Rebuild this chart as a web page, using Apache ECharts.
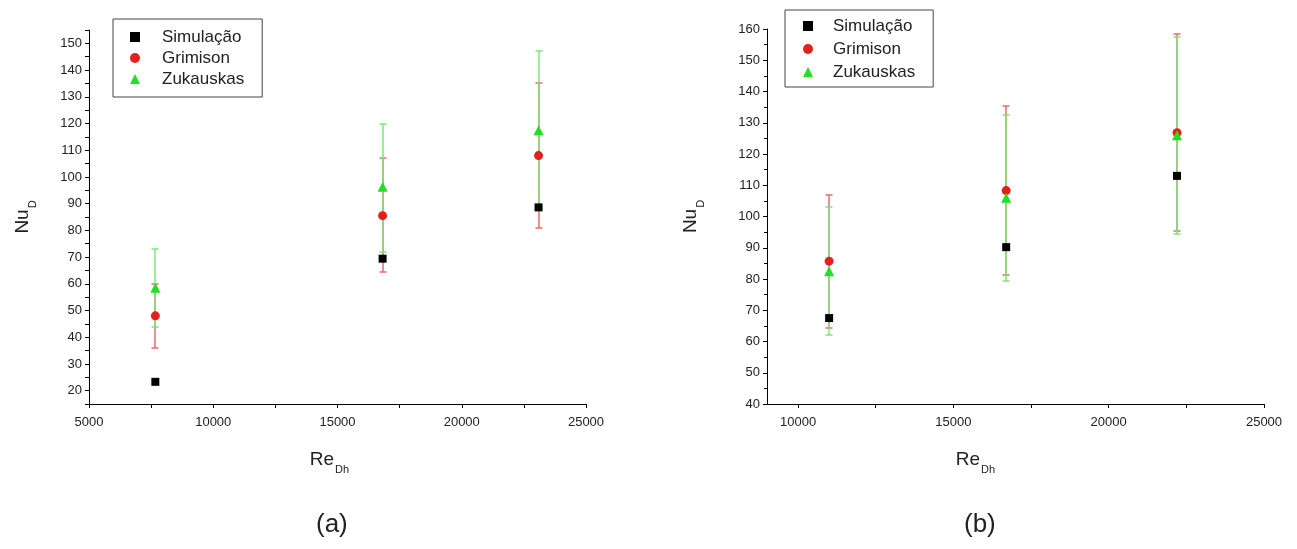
<!DOCTYPE html>
<html><head><meta charset="utf-8">
<script src="https://cdn.jsdelivr.net/npm/echarts@6/dist/echarts.min.js"></script>
<style>html,body{margin:0;padding:0;background:#fff}#c{width:1297px;height:549px}</style>
</head><body><div id="c"></div>
<script>
// ---- Data: panel (a) ----
const reA = [7670, 16815, 23090];
const simA = [23.3, 69.4, 88.6];
const grimA = [48.0, 85.5, 108.0];
const grimLoA = [36.0, 64.3, 81.0];
const grimHiA = [60.0, 107.0, 135.3];
const zukA = [58.5, 96.3, 117.5];
const zukLoA = [44.0, 72.0, 88.0];
const zukHiA = [73.0, 120.0, 147.0];

// ---- Data: panel (b) ----
const reB = [11000, 16700, 22200];
const simB = [67.5, 90.2, 113.0];
const grimB = [85.7, 108.3, 126.8];
const grimLoB = [64.2, 81.3, 95.3];
const grimHiB = [107.0, 135.3, 158.5];
const zukB = [82.5, 106.0, 126.0];
const zukLoB = [62.0, 79.5, 94.5];
const zukHiB = [103.2, 132.6, 157.5];

// ---- Tick labels ----
const xLabelsA = [5000, 10000, 15000, 20000, 25000];
const yLabelsA = [20, 30, 40, 50, 60, 70, 80, 90, 100, 110, 120, 130, 140, 150];
const xLabelsB = [10000, 15000, 20000, 25000];
const xTicksB = [10000, 12500, 15000, 17500, 20000, 22500, 25000];
const yLabelsB = [40, 50, 60, 70, 80, 90, 100, 110, 120, 130, 140, 150, 160];

const seriesNames = ['Simulação', 'Grimison', 'Zukauskas'];
const captions = ['(a)', '(b)'];
const xName = '{a|Re}{s|Dh}';
const yName = '{a|Nu}{s|D}';

const FONT = '"Liberation Sans", Arial, sans-serif';
const C_SIM = '#000000', C_GRIM = '#e3201b', C_ZUK = '#22e022';
const C_GRIM_BAR = '#e46a6a', C_ZUK_BAR = '#7ee47e';

const pts = (xs, ys) => xs.map((x, i) => [x, ys[i]]);
const bars = (xs, lo, hi) => xs.map((x, i) => [x, lo[i], hi[i]]);

function errRender(color) {
  return function (params, api) {
    const x = api.value(0);
    const p1 = api.coord([x, api.value(1)]);
    const p2 = api.coord([x, api.value(2)]);
    const cx = Math.round(p1[0]);
    const y1 = Math.round(p1[1]), y2 = Math.round(p2[1]);
    const w = 3.5;
    const st = { stroke: color, lineWidth: 1.5 };
    return { type: 'group', children: [
      { type: 'line', shape: { x1: cx, y1: y1, x2: cx, y2: y2 }, style: st },
      { type: 'line', shape: { x1: cx - w, y1: y1, x2: cx + w, y2: y1 }, style: st },
      { type: 'line', shape: { x1: cx - w, y1: y2, x2: cx + w, y2: y2 }, style: st }
    ]};
  };
}

const nameRich = {
  a: { fontSize: 19, fontFamily: FONT, color: '#222', verticalAlign: 'top', lineHeight: 20 },
  s: { fontSize: 11, fontFamily: FONT, color: '#222', verticalAlign: 'top', padding: [14, 0, 0, 1], lineHeight: 12 }
};
const labelStyle = { fontSize: 13, fontFamily: FONT, color: '#222' };
const axisLine = { show: true, onZero: false, lineStyle: { color: '#000', width: 1 } };

function legendCfg(left, top, pad, gap, textPad) {
  return {
    orient: 'vertical', left: left, top: top,
    data: seriesNames,
    itemWidth: 10, itemHeight: 10, itemGap: gap,
    padding: pad,
    borderColor: '#444', borderWidth: 1,
    textStyle: { fontSize: 17, fontFamily: FONT, color: '#222', lineHeight: 18, padding: [0, 0, 0, textPad] },
    selectedMode: false
  };
}

function scatterSeries(name, data, symbol, size, color, xi) {
  return { name: name, type: 'scatter', xAxisIndex: xi, yAxisIndex: xi, data: data,
    symbol: symbol, symbolSize: size, itemStyle: { color: color, opacity: 1 }, z: 5 };
}
function errSeries(name, data, color, xi) {
  return { name: name, type: 'custom', xAxisIndex: xi, yAxisIndex: xi, data: data,
    encode: { x: 0, y: [1, 2] }, renderItem: errRender(color), silent: true, z: 3 };
}

const option = {
  animation: false,
  backgroundColor: '#fff',
  legend: [legendCfg(113, 19, [9, 18, 9, 17], 3, 17), legendCfg(785, 10, [7, 18, 6, 18], 5, 15)],
  grid: [
    { left: 89, top: 30, width: 497, height: 374 },
    { left: 767, top: 29, width: 497, height: 375 }
  ],
  xAxis: [
    { type: 'value', gridIndex: 0, min: 5000, max: 25000, interval: 2500,
      axisLine: axisLine, splitLine: { show: false },
      axisTick: { show: true, length: 4, lineStyle: { color: '#000' } },
      axisLabel: Object.assign({ margin: 12, formatter: v => xLabelsA.includes(v) ? String(v) : '' }, labelStyle),
      name: xName, nameLocation: 'middle', nameGap: 46,
      nameTextStyle: { rich: nameRich, padding: [0, 16, 0, 0] } },
    { type: 'value', gridIndex: 1, min: 9000, max: 25000,
      axisLine: axisLine, splitLine: { show: false },
      axisTick: { show: true, length: 4, customValues: xTicksB, lineStyle: { color: '#000' } },
      axisLabel: Object.assign({ margin: 12, customValues: xLabelsB, formatter: v => String(v) }, labelStyle),
      name: xName, nameLocation: 'middle', nameGap: 46,
      nameTextStyle: { rich: nameRich, padding: [0, 80, 0, 0] } }
  ],
  yAxis: [
    { type: 'value', gridIndex: 0, min: 15, max: 155, interval: 5,
      axisLine: axisLine, splitLine: { show: false },
      axisTick: { show: true, length: 4, lineStyle: { color: '#000' } },
      axisLabel: Object.assign({ margin: 7, formatter: v => yLabelsA.includes(v) ? String(v) : '' }, labelStyle),
      name: yName, nameLocation: 'middle', nameRotate: 90, nameGap: 56,
      nameTextStyle: { rich: nameRich } },
    { type: 'value', gridIndex: 1, min: 40, max: 160, interval: 10,
      axisLine: axisLine, splitLine: { show: false },
      axisTick: { show: true, length: 4, lineStyle: { color: '#000' } },
      minorTick: { show: true, splitNumber: 2, length: 3, lineStyle: { color: '#000' } },
      axisLabel: Object.assign({ margin: 7, formatter: v => yLabelsB.includes(v) ? String(v) : '' }, labelStyle),
      name: yName, nameLocation: 'middle', nameRotate: 90, nameGap: 66,
      nameTextStyle: { rich: nameRich } }
  ],
  series: [
    errSeries('Grimison erro a', bars(reA, grimLoA, grimHiA), C_GRIM_BAR, 0),
    errSeries('Zukauskas erro a', bars(reA, zukLoA, zukHiA), C_ZUK_BAR, 0),
    scatterSeries(seriesNames[0], pts(reA, simA), 'rect', 8, C_SIM, 0),
    scatterSeries(seriesNames[1], pts(reA, grimA), 'circle', 9, C_GRIM, 0),
    scatterSeries(seriesNames[2], pts(reA, zukA), 'triangle', 10, C_ZUK, 0),
    errSeries('Grimison erro b', bars(reB, grimLoB, grimHiB), C_GRIM_BAR, 1),
    errSeries('Zukauskas erro b', bars(reB, zukLoB, zukHiB), C_ZUK_BAR, 1),
    scatterSeries(seriesNames[0], pts(reB, simB), 'rect', 8, C_SIM, 1),
    scatterSeries(seriesNames[1], pts(reB, grimB), 'circle', 9, C_GRIM, 1),
    scatterSeries(seriesNames[2], pts(reB, zukB), 'triangle', 10, C_ZUK, 1)
  ],
  graphic: [
    { type: 'text', left: 316, top: 512, style: { text: captions[0], font: '26px ' + FONT, fill: '#222' } },
    { type: 'text', left: 964, top: 512, style: { text: captions[1], font: '26px ' + FONT, fill: '#222' } }
  ]
};

const chart = echarts.init(document.getElementById('c'), null, { renderer: 'canvas' });
chart.setOption(option);
</script>
</body></html>
